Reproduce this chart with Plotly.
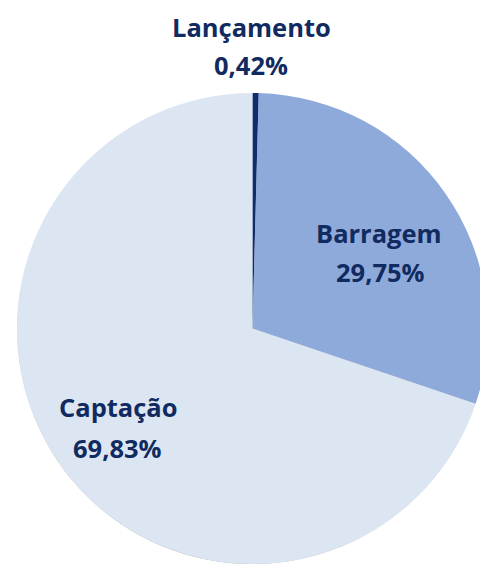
import plotly.graph_objects as go

# Data
categories = ["Lançamento", "Barragem", "Captação"]
values = [0.42, 29.75, 69.83]
pct_labels = ["0,42%", "29,75%", "69,83%"]
colors = ["#0f2c6e", "#8eaadb", "#dce6f3"]

OFF = 8  # page body margin
W, H = 488 - OFF, 572 - 2 * OFF
TEXT_COLOR = "#112a5f"
FONT = "Open Sans"

# pie geometry (page pixels)
cx, cy, r = 252.5, 328.5, 235.5

def dom(cx, cy, r):
    x0, y0 = cx - OFF, cy - OFF
    return dict(x=[max((x0 - r) / W, 0.0), min((x0 + r) / W, 1.0)],
                y=[max(1 - (y0 + r) / H, 0.0), min(1 - (y0 - r) / H, 1.0)])

fig = go.Figure()

# soft drop shadow
for dx, dy, dr, a in [(0.0, 3.0, 1.5, 0.16), (0.0, 2.0, 0.5, 0.26)]:
    fig.add_trace(go.Pie(
        values=[1], marker=dict(colors=[f"rgba(60,60,60,{a})"], line=dict(width=0)),
        textinfo="none", hoverinfo="skip", showlegend=False, sort=False,
        domain=dom(cx + dx, cy + dy, r + dr),
    ))

fig.add_trace(go.Pie(
    labels=categories, values=values,
    marker=dict(colors=colors, line=dict(width=0)),
    sort=False, direction="clockwise", rotation=0,
    textinfo="none", showlegend=False,
    domain=dom(cx, cy, r),
))

# label positions (page pixel centers of text lines)
label_pos = {
    "Lançamento": [(251, 27), (251, 65)],
    "Barragem": [(379, 233), (380, 272)],
    "Captação": [(118, 407), (117, 448)],
}

annotations = []
for cat, pct in zip(categories, pct_labels):
    (x1, y1), (x2, y2) = label_pos[cat]
    for txt, (x, y) in [(cat, (x1, y1)), (pct, (x2, y2))]:
        annotations.append(dict(
            text=f"<b>{txt}</b>", x=(x - OFF) / W, y=1 - (y - OFF) / H,
            xref="paper", yref="paper",
            xanchor="center", yanchor="middle", showarrow=False,
            font=dict(family=FONT, size=25.5, color=TEXT_COLOR),
        ))

fig.update_layout(
    width=W, height=H,
    margin=dict(l=0, r=0, t=0, b=0),
    paper_bgcolor="white", plot_bgcolor="white",
    annotations=annotations,
)

fig.write_html("out.html")
